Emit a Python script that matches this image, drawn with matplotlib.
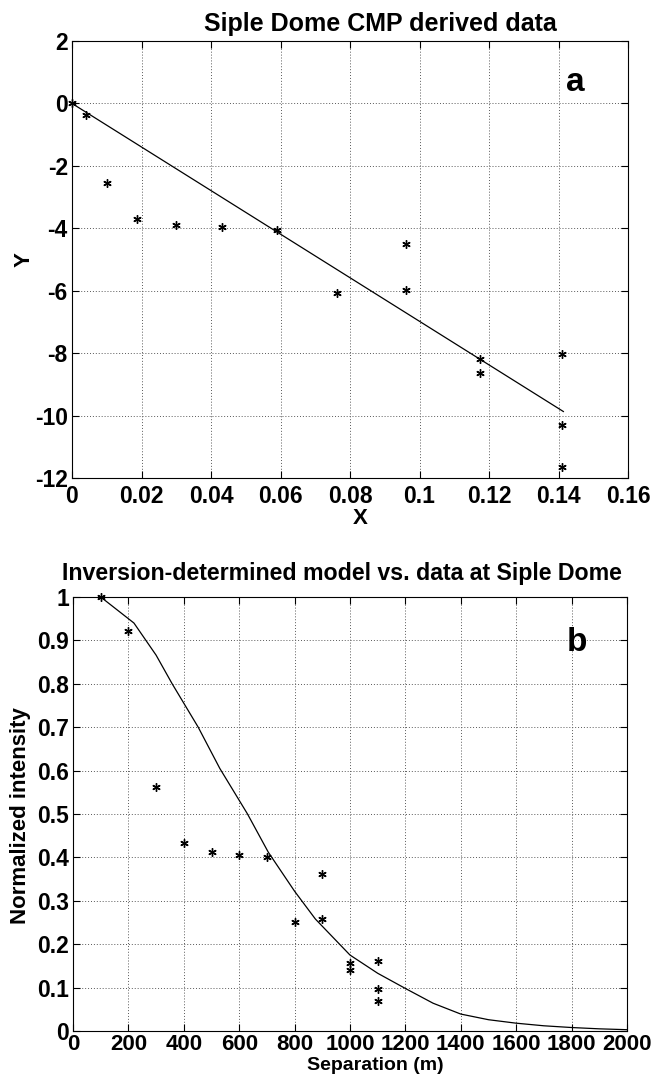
import matplotlib
matplotlib.use("Agg")
import matplotlib.pyplot as plt

plt.rcParams['font.family'] = ['Liberation Sans', 'DejaVu Sans']
plt.rcParams['font.weight'] = 'bold'

# ---- Panel a data ----
xa_pts = [0.0, 0.004, 0.010, 0.0187, 0.0298, 0.0432, 0.0589, 0.0763, 0.0962, 0.0962,
          0.1174, 0.1174, 0.141, 0.141, 0.141]
ya_pts = [0.0, -0.36, -2.54, -3.69, -3.88, -3.96, -4.04, -6.08, -4.50, -5.98,
          -8.20, -8.65, -8.04, -10.30, -11.66]
xa_fit = [0.0, 0.1414]
ya_fit = [0.0, -9.87]
xa_ticks = [0, 0.02, 0.04, 0.06, 0.08, 0.1, 0.12, 0.14, 0.16]
xa_labels = ['0', '0.02', '0.04', '0.06', '0.08', '0.1', '0.12', '0.14', '0.16']
ya_ticks = [2, 0, -2, -4, -6, -8, -10, -12]
ya_labels = ['2', '0', '-2', '-4', '-6', '-8', '-10', '-12']

# ---- Panel b data ----
sb_pts = [100, 200, 300, 400, 500, 600, 700, 800, 900, 900, 1000, 1000, 1100, 1100, 1100]
ib_pts = [1.0, 0.922, 0.563, 0.433, 0.412, 0.405, 0.400, 0.251, 0.362, 0.258,
          0.156, 0.140, 0.161, 0.097, 0.070]
sb_model = [100, 220, 300, 358, 452, 530, 630, 705, 800, 875, 1000, 1100, 1200,
            1300, 1400, 1500, 1600, 1700, 1800, 1900, 2000]
ib_model = [1.0, 0.940, 0.866, 0.800, 0.700, 0.605, 0.500, 0.412, 0.322, 0.258,
            0.175, 0.133, 0.098, 0.064, 0.039, 0.026, 0.018, 0.012, 0.008, 0.005, 0.003]
xb_ticks = list(range(0, 2001, 200))
yb_ticks = [0, 0.1, 0.2, 0.3, 0.4, 0.5, 0.6, 0.7, 0.8, 0.9, 1]
yb_labels = ['0', '0.1', '0.2', '0.3', '0.4', '0.5', '0.6', '0.7', '0.8', '0.9', '1']

W, H = 651, 1075
fig = plt.figure(figsize=(W / 100, H / 100), dpi=100)


def fx(px):
    return px / W


def fy(py):
    return 1 - py / H


ax_a = fig.add_axes([fx(72), fy(478), (628 - 72) / W, (478 - 41) / H])
ax_b = fig.add_axes([fx(73), fy(1031), (627 - 73) / W, (1031 - 597) / H])

star = (6, 2, 0)
tick_fs = 16.5


def style(ax, xpad, xfs):
    ax.grid(True, color='0.35', linestyle=(0, (1, 2)), linewidth=0.7)
    ax.set_axisbelow(True)
    ax.tick_params(direction='in', length=5, width=0.8, top=True, right=True,
                   labelsize=tick_fs, pad=3, colors='black')
    ax.tick_params(axis='x', pad=xpad, labelsize=xfs)
    for s in ax.spines.values():
        s.set_linewidth(0.8)
        s.set_color('black')
    for lab in ax.get_xticklabels() + ax.get_yticklabels():
        lab.set_fontweight('bold')


# Panel a
ax_a.plot(xa_fit, ya_fit, color='black', linewidth=0.9)
ax_a.plot(xa_pts, ya_pts, linestyle='none', marker=star, markersize=6,
          markeredgewidth=1.0, color='black', clip_on=False)
ax_a.set_xlim(0, 0.16)
ax_a.set_ylim(-12, 2)
ax_a.set_xticks(xa_ticks)
ax_a.set_xticklabels(xa_labels)
ax_a.set_yticks(ya_ticks)
ax_a.set_yticklabels(ya_labels)
style(ax_a, 5, tick_fs)
ax_a.text(0.906, 0.906, 'a', transform=ax_a.transAxes, fontsize=24,
          fontweight='bold', ha='center', va='center')

# Panel b
ax_b.plot(sb_model, ib_model, color='black', linewidth=0.9)
ax_b.plot(sb_pts, ib_pts, linestyle='none', marker=star, markersize=6,
          markeredgewidth=1.0, color='black', clip_on=False)
ax_b.set_xlim(0, 2000)
ax_b.set_ylim(0, 1)
ax_b.set_xticks(xb_ticks)
ax_b.set_xticklabels([str(v) for v in xb_ticks])
ax_b.set_yticks(yb_ticks)
ax_b.set_yticklabels(yb_labels)
style(ax_b, 2.5, 16)
ax_b.text(0.909, 0.896, 'b', transform=ax_b.transAxes, fontsize=24,
          fontweight='bold', ha='center', va='center')

# Titles and axis labels
fig.text(fx(380), fy(31), 'Siple Dome CMP derived data', fontsize=18,
         fontweight='bold', ha='center', va='baseline')
fig.text(fx(342), fy(580), 'Inversion-determined model vs. data at Siple Dome',
         fontsize=16.7, fontweight='bold', ha='center', va='baseline')
fig.text(fx(24), fy(260), 'Y', fontsize=16, fontweight='bold', rotation=90,
         ha='center', va='center')
fig.text(fx(20.5), fy(816), 'Normalized intensity', fontsize=16, fontweight='bold',
         rotation=90, ha='center', va='center')
fig.text(fx(360), fy(519), 'X', fontsize=16, fontweight='bold',
         ha='center', va='center')
fig.text(fx(375), fy(1070), 'Separation (m)', fontsize=14, fontweight='bold',
         ha='center', va='baseline')

fig.savefig('out.png', dpi=100, facecolor='white')
